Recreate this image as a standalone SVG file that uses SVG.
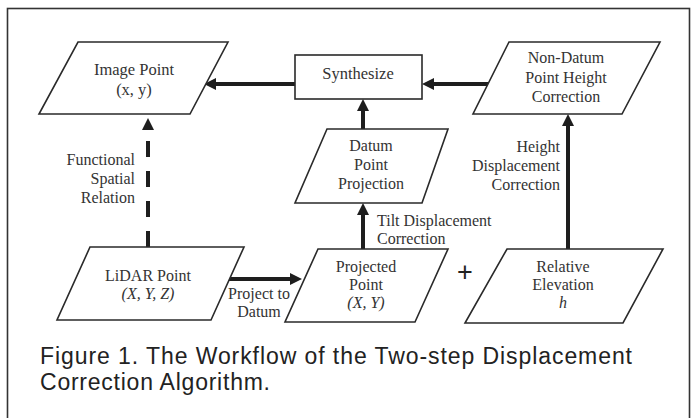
<svg xmlns="http://www.w3.org/2000/svg" width="691" height="418" viewBox="0 0 691 418">
<style>
.frame{fill:#fff;stroke:#333;stroke-width:1.6}
.node{fill:#fff;stroke:#2a2a2a;stroke-width:1.6}
.t{font-family:"Liberation Serif","Times New Roman",serif;font-size:16.5px;fill:#333;text-anchor:middle}
.l{font-family:"Liberation Serif","Times New Roman",serif;font-size:16.5px;fill:#333}
.sm{font-size:16px}
.r{text-anchor:end}
.s{text-anchor:start}
.i{font-style:italic}
.edge{fill:none;stroke:#1e1e1e;stroke-width:4}
.dash{stroke-dasharray:16 14}
.cap{font-family:"Liberation Sans",Arial,sans-serif;font-size:23px;fill:#222}
</style>
<defs>
<marker id="ah" viewBox="0 0 12 12" refX="3" refY="6" markerWidth="12" markerHeight="12" markerUnits="userSpaceOnUse" orient="auto">
<path d="M0,0 L12,6 L0,12 z" fill="#1e1e1e"/>
</marker>
</defs>
<rect class="frame" x="7.5" y="8.5" width="682" height="420"/>

<g id="connectors">
<path class="edge" d="M295,84 L213,84" marker-end="url(#ah)"/>
<path class="edge" d="M488,84 L431,84" marker-end="url(#ah)"/>
<path class="edge" d="M363,129 L363,108" marker-end="url(#ah)"/>
<path class="edge" d="M363,249 L363,212" marker-end="url(#ah)"/>
<path class="edge" d="M568,249 L568,123" marker-end="url(#ah)"/>
<path class="edge" d="M229,279 L293,279" marker-end="url(#ah)"/>
<path class="edge dash" d="M148,247 L148,127" marker-end="url(#ah)"/>
<text class="l r sm" x="135" y="165">Functional</text>
<text class="l r sm" x="135" y="184">Spatial</text>
<text class="l r sm" x="135" y="203">Relation</text>
<text class="l s sm" x="377" y="226">Tilt Displacement</text>
<text class="l s sm" x="377" y="244">Correction</text>
<text class="l r sm" x="560" y="152">Height</text>
<text class="l r sm" x="560" y="171">Displacement</text>
<text class="l r sm" x="560" y="190">Correction</text>
<text class="t sm" x="259" y="299">Project to</text>
<text class="t sm" x="259" y="317">Datum</text>
</g>

<g id="image-point">
<polygon class="node" points="78,42 228,42 190,114 39,114"/>
<text class="t" x="134" y="75">Image Point</text>
<text class="t" x="134" y="95">(x, y)</text>
</g>

<g id="synthesize">
<rect class="node" x="295" y="55" width="127" height="44"/>
<text class="t" x="358" y="79">Synthesize</text>
</g>

<g id="non-datum">
<polygon class="node" points="509,42 660,42 622,114 473,114"/>
<text class="t sm" x="566" y="63">Non-Datum</text>
<text class="t sm" x="566" y="83">Point Height</text>
<text class="t sm" x="566" y="102">Correction</text>
</g>

<g id="datum-projection">
<polygon class="node" points="327,129 448,129 422,203 295,203"/>
<text class="t sm" x="371" y="151">Datum</text>
<text class="t sm" x="371" y="170">Point</text>
<text class="t sm" x="371" y="189">Projection</text>
</g>

<g id="lidar-point">
<polygon class="node" points="90,247 244,247 211,320 57,320"/>
<text class="t sm" x="148" y="281" fill="#555">LiDAR Point</text>
<text class="t sm i" x="148" y="299">(X, Y, Z)</text>
</g>

<g id="projected-point">
<polygon class="node" points="318,249 448,249 415,322 285,322"/>
<text class="t sm" x="366" y="272">Projected</text>
<text class="t sm" x="366" y="290">Point</text>
<text class="t sm i" x="366" y="308">(X, Y)</text>
</g>

<g id="plus">
<text x="465" y="281" font-family="Liberation Sans, Arial, sans-serif" font-size="27" fill="#222" text-anchor="middle">+</text>
</g>

<g id="relative-elevation">
<polygon class="node" points="507,249 663,249 623,323 465,323"/>
<text class="t sm" x="563" y="272">Relative</text>
<text class="t sm" x="563" y="290">Elevation</text>
<text class="t sm i" x="563" y="308">h</text>
</g>

<g id="caption">
<text class="cap" x="40" y="364" textLength="592" lengthAdjust="spacing">Figure 1. The Workflow of the Two-step Displacement</text>
<text class="cap" x="40" y="390" textLength="230" lengthAdjust="spacing">Correction Algorithm.</text>
</g>
</svg>
